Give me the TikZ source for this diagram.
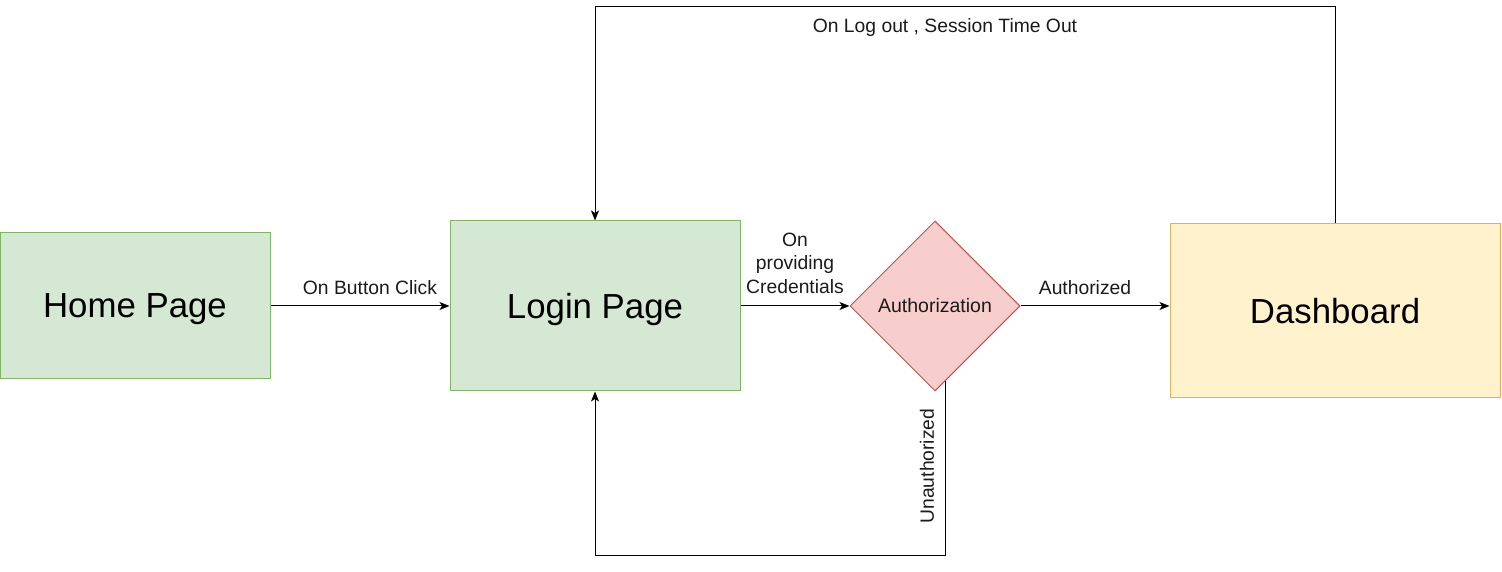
\documentclass[tikz,border=0pt]{standalone}
\usepackage{fontspec}
\setmainfont{Liberation Sans}
\usetikzlibrary{shapes.geometric,arrows.meta,calc}
\definecolor{gfill}{HTML}{D5E8D4}
\definecolor{gline}{HTML}{82B366}
\definecolor{rfill}{HTML}{F8CECC}
\definecolor{rline}{HTML}{B85450}
\definecolor{yfill}{HTML}{FFF2CC}
\definecolor{yline}{HTML}{D6B656}
\definecolor{txt}{HTML}{1A1A1A}
\begin{document}
\begin{tikzpicture}[x=1pt,y=1pt,
  box/.style={draw=gline,fill=gfill,line width=1pt,inner sep=0pt,text depth=0pt,font=\fontsize{34.8}{40}\selectfont},
  lbl/.style={font=\fontsize{19.3}{23.5}\selectfont,text=txt,inner sep=0pt,align=center},
  conn/.style={line width=1pt,-{Stealth[length=10pt,width=8pt,inset=2.5pt]}}]
\useasboundingbox (0,0) rectangle (1502,572);
\node[box,minimum width=270pt,minimum height=146pt] (home) at (135,266) {Home Page};
\node[box,minimum width=290pt,minimum height=170pt] (login) at (595,266) {Login Page};
\node[diamond,draw=rline,fill=rfill,line width=1pt,inner sep=0pt,minimum width=170pt,minimum height=170pt,font=\fontsize{19.5}{23}\selectfont,text=txt] (auth) at (935,266) {Authorization};
\node[box,draw=yline,fill=yfill,minimum width=330pt,minimum height=174pt] (dash) at (1335,261) {Dashboard};
\coordinate (tl) at (595,565);
\coordinate (tr) at (1335,565);
\coordinate (u0) at ($(auth.south)+(10pt,10pt)$);
\coordinate (br) at (945,16);
\coordinate (bl) at (595,16);
\draw[conn] (home.east) -- (login.west);
\draw[conn] (login.east) -- (auth.west);
\draw[conn] (auth.east) -- (dash.west |- auth.east);
\draw[conn] (dash.north) -- (tr) -- (tl) -- (login.north);
\draw[conn] (u0) -- (br) -- (bl) -- (login.south);
\node[lbl] (l1) at (370,284) {On Button Click};
\node[lbl] (l2) at (795,309) {On\\providing\\Credentials};
\node[lbl] (l3) at (1085,284) {Authorized};
\node[lbl] (l4) at (945,544) {On Log out , Session Time Out};
\node[lbl,rotate=90] (l5) at (927,106) {Unauthorized};
\end{tikzpicture}
\end{document}
